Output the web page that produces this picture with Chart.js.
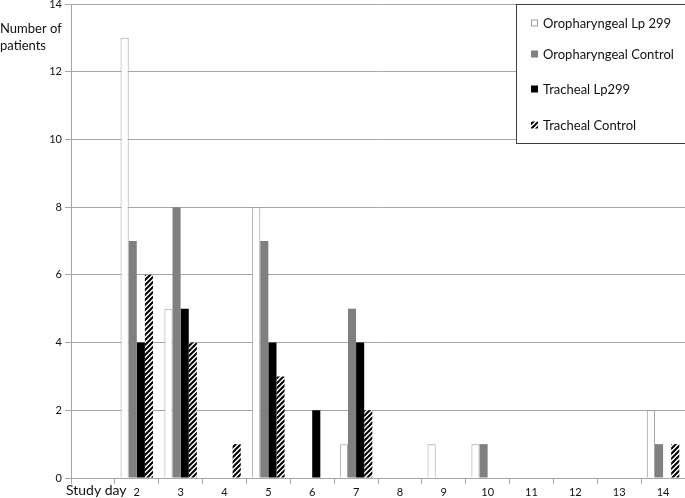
<!DOCTYPE html>
<html>
<head>
<meta charset="utf-8">
<script src="https://cdn.jsdelivr.net/npm/chart.js@4/dist/chart.umd.min.js"></script>
<style>
  html, body { margin: 0; padding: 0; background: #fff; }
  #wrap { position: relative; width: 685px; height: 498px; }
</style>
</head>
<body>
<div id="wrap"><canvas id="patientsChart" width="685" height="498"></canvas></div>
<script>
const days = ["1","2","3","4","5","6","7","8","9","10","11","12","13","14"];
const seriesNames = ["Oropharyngeal Lp 299", "Oropharyngeal Control", "Tracheal Lp299", "Tracheal Control"];
const oroLp299     = [0, 13, 5, 0, 8, 0, 1, 0, 1, 1, 0, 0, 0, 2];
const oroControl   = [0, 7, 8, 0, 7, 0, 5, 0, 0, 1, 0, 0, 0, 1];
const trachLp299   = [0, 4, 5, 0, 4, 2, 4, 0, 0, 0, 0, 0, 0, 0];
const trachControl = [0, 6, 4, 1, 3, 0, 2, 0, 0, 0, 0, 0, 0, 1];
const yTicks = [0, 2, 4, 6, 8, 10, 12, 14];

const FONT = "Lato, 'Open Sans', sans-serif";

function makeHatch() {
  const c = document.createElement("canvas");
  c.width = 5; c.height = 5;
  const g = c.getContext("2d");
  g.fillStyle = "#fff";
  g.fillRect(0, 0, 5, 5);
  g.strokeStyle = "#000";
  g.lineWidth = 2;
  g.beginPath();
  g.moveTo(-1, 6); g.lineTo(6, -1);
  g.moveTo(-1, 1); g.lineTo(1, -1);
  g.moveTo(4, 6); g.lineTo(6, 4);
  g.stroke();
  return g.createPattern(c, "repeat");
}
const hatch = makeHatch();

// legend box and loose axis captions, drawn on top
const extras = {
  id: "extras",
  afterDraw(chart) {
    const ctx = chart.ctx;
    ctx.save();

    // legend box
    ctx.fillStyle = "#fff";
    ctx.fillRect(516, 4, 170, 139);
    ctx.strokeStyle = "#404040";
    ctx.lineWidth = 1;
    ctx.strokeRect(516.5, 4.5, 170, 139);
    const rows = [23, 54, 89, 125];
    ctx.font = "13px " + FONT;
    ctx.textBaseline = "middle";
    chart.data.datasets.forEach((ds, i) => {
      const y = rows[i];
      ctx.fillStyle = ds.backgroundColor;
      ctx.fillRect(531, y - 3.5, 7, 7);
      if (ds.borderWidth) {
        ctx.strokeStyle = ds.borderColor;
        ctx.strokeRect(531.5, y - 3, 6, 6);
      }
      ctx.fillStyle = "#111";
      ctx.fillText(ds.label, 543, y + 1);
    });

    // y caption
    ctx.font = "13px " + FONT;
    ctx.fillStyle = "#111";
    ctx.textBaseline = "middle";
    ctx.fillText("Number of", 0, 29);
    ctx.fillText("patients", 0, 46);

    // x caption
    ctx.font = "14px " + FONT;
    const w = ctx.measureText("Study day").width;
    ctx.fillStyle = "#fff";
    ctx.fillRect(64, 484, w + 4, 14);
    ctx.fillStyle = "#111";
    ctx.textBaseline = "alphabetic";
    ctx.fillText("Study day", 66, 495);
    ctx.restore();
  }
};

const ctx = document.getElementById("patientsChart").getContext("2d");
new Chart(ctx, {
  type: "bar",
  data: {
    labels: days,
    datasets: [
      { label: seriesNames[0], data: oroLp299, backgroundColor: "#ffffff", borderColor: "#a0a0a0", borderWidth: 1 },
      { label: seriesNames[1], data: oroControl, backgroundColor: "#808080", borderWidth: 0 },
      { label: seriesNames[2], data: trachLp299, backgroundColor: "#000000", borderWidth: 0 },
      { label: seriesNames[3], data: trachControl, backgroundColor: hatch, borderWidth: 0 }
    ]
  },
  options: {
    responsive: false,
    animation: false,
    devicePixelRatio: 1,
    layout: { autoPadding: false, padding: { top: 4, right: 0, left: 0, bottom: 0 } },
    datasets: { bar: { barPercentage: 1.0, categoryPercentage: 0.74 } },
    plugins: { legend: { display: false }, tooltip: { enabled: false } },
    scales: {
      x: {
        grid: { drawOnChartArea: false, drawTicks: true, tickLength: 6, color: "#a6a6a6" },
        border: { color: "#a6a6a6" },
        ticks: { color: "#111", font: { family: FONT, size: 11 }, padding: 2, maxRotation: 0, autoSkip: false },
        afterFit(scale) {
          scale.height = 20;
          scale.paddingLeft = 0; scale.paddingRight = 0;
        }
      },
      y: {
        min: 0,
        max: 14,
        afterBuildTicks(scale) { scale.ticks = yTicks.map((v) => ({ value: v })); },
        grid: { color: "#a6a6a6", tickLength: 6 },
        border: { color: "#a6a6a6" },
        ticks: { color: "#111", font: { family: FONT, size: 11 }, padding: 3 },
        afterFit(scale) {
          scale.width = 71;
          scale.paddingTop = 0; scale.paddingBottom = 0;
        }
      }
    }
  },
  plugins: [extras]
});
</script>
</body>
</html>
